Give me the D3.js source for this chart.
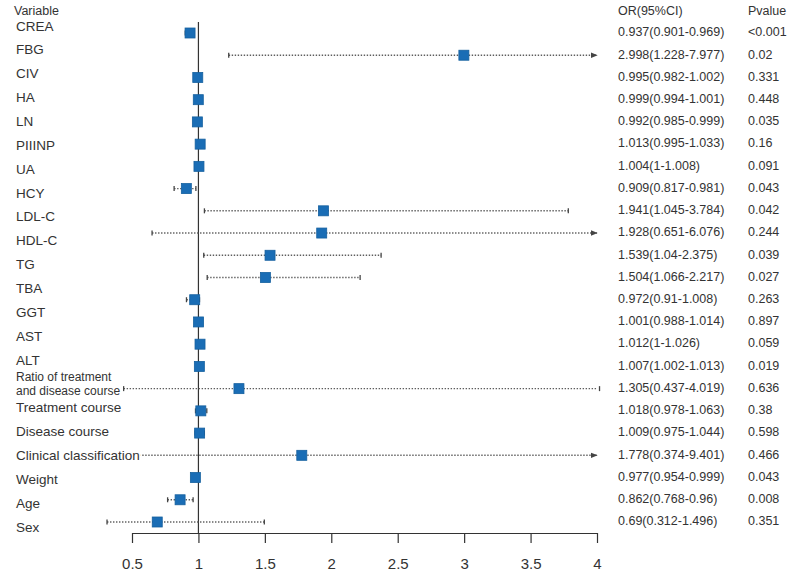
<!DOCTYPE html>
<html>
<head>
<meta charset="utf-8">
<script src="https://cdn.jsdelivr.net/npm/d3@7"></script>
<style>
  body { margin: 0; background: #fff; }
  svg { font-family: "Liberation Sans", Arial, sans-serif; }
</style>
</head>
<body>
<div id="chart"></div>
<script>

// variable names as printed on the left (22 of them, they do not line up 1:1 with the rows)
const labels = ['CREA', 'FBG', 'CIV', 'HA', 'LN', 'PIIINP', 'UA', 'HCY', 'LDL-C', 'HDL-C', 'TG', 'TBA',
  'GGT', 'AST', 'ALT', 'Ratio of treatment|and disease course', 'Treatment course', 'Disease course',
  'Clinical classification', 'Weight', 'Age', 'Sex']

// the 23 rows of estimates
const or = [0.937, 2.998, 0.995, 0.999, 0.992, 1.013, 1.004, 0.909, 1.941, 1.928, 1.539, 1.504,
  0.972, 1.001, 1.012, 1.007, 1.305, 1.018, 1.009, 1.778, 0.977, 0.862, 0.69]
const lower = [0.901, 1.228, 0.982, 0.994, 0.985, 0.995, 1, 0.817, 1.045, 0.651, 1.04, 1.066,
  0.91, 0.988, 1, 1.002, 0.437, 0.978, 0.975, 0.374, 0.954, 0.768, 0.312]
const upper = [0.969, 7.977, 1.002, 1.001, 0.999, 1.033, 1.008, 0.981, 3.784, 6.076, 2.375, 2.217,
  1.008, 1.014, 1.026, 1.013, 4.019, 1.063, 1.044, 9.401, 0.999, 0.96, 1.496]
const pvalues = ['<0.001', '0.02', '0.331', '0.448', '0.035', '0.16', '0.091', '0.043', '0.042', '0.244',
  '0.039', '0.027', '0.263', '0.897', '0.059', '0.019', '0.636', '0.38', '0.598', '0.466', '0.043',
  '0.008', '0.351']

const ticks = [0.5, 1, 1.5, 2, 2.5, 3, 3.5, 4]

const width = 800
const height = 580

const rows = or.map((d, i) => ({or: d, lo: lower[i], hi: upper[i], p: pvalues[i], i: i}))

const x = d3.scaleLinear().domain([0.5, 4]).range([132, 597])
const y = d3.scaleLinear().domain([0, rows.length - 1]).range([33, 522])
const yLab = d3.scalePoint().domain(labels).range([27, 528])

const axisY = 533
const boxSize = 10
const blue = '#1a6db5'
const grey = '#5e5e5e'
const textCol = '#333'

const svg = d3.select('#chart')
  .append('svg')
  .attr('width', width)
  .attr('height', height)

svg.append('defs').append('marker')
  .attr('id', 'arrow')
  .attr('viewBox', '0 0 10 10')
  .attr('refX', 9)
  .attr('refY', 5)
  .attr('markerWidth', 5)
  .attr('markerHeight', 5)
  .attr('orient', 'auto')
  .append('path')
  .attr('d', 'M0,1 L10,5 L0,9 z')
  .attr('fill', '#444')

// reference line at OR = 1
svg.append('line')
  .attr('x1', x(1)).attr('x2', x(1))
  .attr('y1', 22).attr('y2', axisY)
  .attr('stroke', '#333')
  .attr('stroke-width', 1.2)

// confidence intervals
const ci = svg.append('g')

ci.selectAll('line.ci')
  .data(rows)
  .enter()
  .append('line')
  .attr('class', 'ci')
  .attr('x1', d => x(d.lo))
  .attr('x2', d => x(Math.min(d.hi, 4)))
  .attr('y1', d => y(d.i))
  .attr('y2', d => y(d.i))
  .attr('stroke', grey)
  .attr('stroke-width', 1.4)
  .attr('stroke-dasharray', '1.4,1.6')
  .attr('marker-end', d => d.hi > 4.05 ? 'url(#arrow)' : null)

// end caps
const caps = []
rows.forEach(d => {
  caps.push({v: d.lo, i: d.i})
  if (d.hi <= 4.05) caps.push({v: d.hi, i: d.i})
})

ci.selectAll('line.cap')
  .data(caps)
  .enter()
  .append('line')
  .attr('class', 'cap')
  .attr('x1', d => x(d.v)).attr('x2', d => x(d.v))
  .attr('y1', d => y(d.i) - 2.5)
  .attr('y2', d => y(d.i) + 2.5)
  .attr('stroke', '#444')
  .attr('stroke-width', 1.3)

// estimates
svg.append('g')
  .selectAll('rect')
  .data(rows)
  .enter()
  .append('rect')
  .attr('x', d => x(d.or) - boxSize / 2)
  .attr('y', d => y(d.i) - boxSize / 2)
  .attr('width', boxSize)
  .attr('height', boxSize)
  .attr('fill', blue)
  .attr('stroke', '#15609f')
  .attr('stroke-width', 0.8)

// x axis
const axis = svg.append('g')
  .attr('transform', `translate(0,${axisY})`)
  .call(d3.axisBottom(x).tickValues(ticks).tickFormat(d3.format('~g')).tickSize(10).tickSizeOuter(0).tickPadding(15))

axis.select('.domain').attr('stroke', '#333').attr('stroke-width', 1.2)
axis.selectAll('.tick line').attr('stroke', '#333').attr('stroke-width', 1.2)
axis.selectAll('.tick text')
  .attr('fill', textCol)
  .style('font-size', '15px')

// left labels
svg.append('text')
  .attr('x', 14)
  .attr('y', 12)
  .attr('dominant-baseline', 'middle')
  .attr('fill', textCol)
  .style('font-size', '12.5px')
  .text('Variable')

const lab = svg.append('g')
  .selectAll('text')
  .data(labels)
  .enter()
  .append('text')
  .attr('x', 16)
  .attr('y', d => yLab(d))
  .attr('dominant-baseline', 'middle')
  .attr('fill', textCol)
  .attr('stroke', '#fff')
  .attr('stroke-width', 4)
  .attr('paint-order', 'stroke')
  .style('font-size', d => d.includes('|') ? '12px' : '13.5px')

lab.filter(d => !d.includes('|')).text(d => d)

lab.filter(d => d.includes('|'))
  .selectAll('tspan')
  .data(d => d.split('|'))
  .enter()
  .append('tspan')
  .attr('x', 16)
  .attr('dy', (d, i) => i === 0 ? '-0.6em' : '1.2em')
  .text(d => d)

// right columns
const orX = 618
const pX = 748

svg.append('text')
  .attr('x', orX).attr('y', 12)
  .attr('dominant-baseline', 'middle')
  .attr('fill', textCol)
  .style('font-size', '12.5px')
  .text('OR(95%CI)')

svg.append('text')
  .attr('x', pX).attr('y', 12)
  .attr('dominant-baseline', 'middle')
  .attr('fill', textCol)
  .style('font-size', '12.5px')
  .text('Pvalue')

svg.append('g')
  .selectAll('text')
  .data(rows)
  .enter()
  .append('text')
  .attr('x', orX)
  .attr('y', d => y(d.i))
  .attr('dominant-baseline', 'middle')
  .attr('fill', textCol)
  .style('font-size', '12.5px')
  .text(d => `${d.or}(${d.lo}-${d.hi})`)

svg.append('g')
  .selectAll('text')
  .data(rows)
  .enter()
  .append('text')
  .attr('x', pX)
  .attr('y', d => y(d.i))
  .attr('dominant-baseline', 'middle')
  .attr('fill', textCol)
  .style('font-size', '12.5px')
  .text(d => d.p)

</script>
</body>
</html>
